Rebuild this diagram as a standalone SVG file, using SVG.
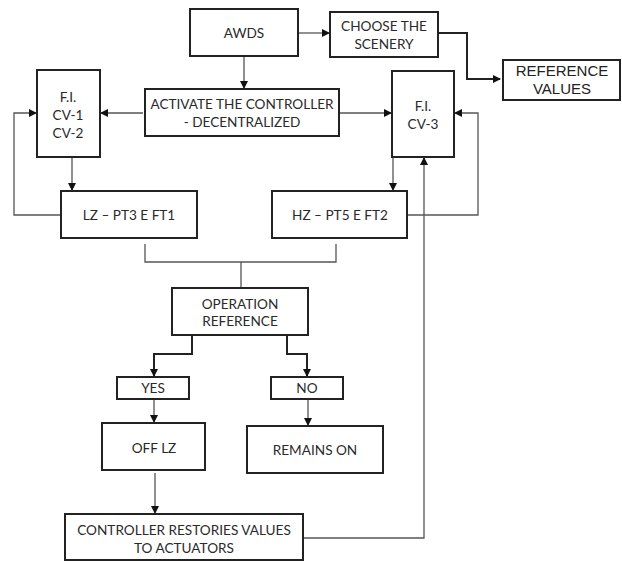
<svg xmlns="http://www.w3.org/2000/svg" width="622" height="561" viewBox="0 0 622 561">
<style>
.box{fill:#fff;stroke:#222;stroke-width:2}
.t{font-family:Lato,"Open Sans","Liberation Sans",sans-serif;font-size:13.6px;fill:#2a2a2a;text-anchor:middle}
.ta{font-family:"Liberation Sans",Arial,sans-serif;font-size:15px;fill:#222;text-anchor:middle}
.c{fill:none;stroke:#555;stroke-width:1.3}
.ck{fill:none;stroke:#222;stroke-width:2}
</style>
<defs>
<marker id="ah" markerWidth="8" markerHeight="8" refX="7" refY="4" orient="auto" markerUnits="userSpaceOnUse">
<path d="M0,0 L8,4 L0,8 Z" fill="#111"/>
</marker>
</defs>
<rect width="622" height="561" fill="#fff"/>
<g id="connectors">
<path class="c" d="M244,56 V88" marker-end="url(#ah)"/>
<path class="c" d="M298,33 H329" marker-end="url(#ah)"/>
<path class="ck" d="M436,33 H467 V79 H500" marker-end="url(#ah)"/>
<path class="c" d="M143,113 H101" marker-end="url(#ah)"/>
<path class="c" d="M339,113 H391" marker-end="url(#ah)"/>
<path class="c" d="M72,157 V190" marker-end="url(#ah)"/>
<path class="c" d="M393,157 V190" marker-end="url(#ah)"/>
<path class="c" d="M61,215 H14 V113 H36" marker-end="url(#ah)"/>
<path class="c" d="M407,215 H478 V113 H455" marker-end="url(#ah)"/>
<path class="c" d="M145,244 V262 H336 V244 M241,262 V288"/>
<path class="ck" d="M192,335 V354 H154 V376" marker-end="url(#ah)"/>
<path class="ck" d="M287,335 V354 H307 V376" marker-end="url(#ah)"/>
<path class="c" d="M154,399 V422" marker-end="url(#ah)"/>
<path class="c" d="M308,399 V425" marker-end="url(#ah)"/>
<path class="c" d="M155,473 V513" marker-end="url(#ah)"/>
<path class="c" d="M303,538 H424 V158" marker-end="url(#ah)"/>
</g>
<g id="awds"><rect class="box" x="190" y="9" width="108" height="47"/><text class="t" x="244" y="38">AWDS</text></g>
<g id="choose"><rect class="box" x="330" y="12" width="108" height="45"/><text class="t" x="384" y="31">CHOOSE THE</text><text class="t" x="384" y="49">SCENERY</text></g>
<g id="refvalues"><rect class="box" x="503" y="60" width="117" height="40"/><text class="ta" x="562" y="76">REFERENCE</text><text class="ta" x="562" y="94">VALUES</text></g>
<g id="activate"><rect class="box" x="145" y="89" width="194" height="47"/><text class="t" x="242" y="109">ACTIVATE THE CONTROLLER</text><text class="t" x="242" y="127">- DECENTRALIZED</text></g>
<g id="fi12"><rect class="box" x="37" y="70" width="63" height="87"/><text class="t" x="68" y="102">F.I.</text><text class="t" x="68" y="120">CV-1</text><text class="t" x="68" y="138">CV-2</text></g>
<g id="fi3"><rect class="box" x="392" y="71" width="62" height="86"/><text class="t" x="423" y="111">F.I.</text><text class="t" x="423" y="129">CV-3</text></g>
<g id="lz"><rect class="box" x="61" y="191" width="136" height="47"/><text class="t" x="129" y="220">LZ – PT3 E FT1</text></g>
<g id="hz"><rect class="box" x="272" y="191" width="135" height="47"/><text class="t" x="340" y="220">HZ – PT5 E FT2</text></g>
<g id="operation"><rect class="box" x="172" y="288" width="136" height="47"/><text class="t" x="240" y="309">OPERATION</text><text class="t" x="240" y="326">REFERENCE</text></g>
<g id="yes"><rect class="box" x="117" y="377" width="72" height="22"/><text class="t" x="153" y="393">YES</text></g>
<g id="no"><rect class="box" x="271" y="377" width="72" height="22"/><text class="t" x="307" y="393">NO</text></g>
<g id="offlz"><rect class="box" x="102" y="423" width="103" height="47"/><text class="t" x="154" y="453">OFF LZ</text></g>
<g id="remains"><rect class="box" x="247" y="426" width="136" height="47"/><text class="t" x="315" y="455">REMAINS ON</text></g>
<g id="controller"><rect class="box" x="65" y="514" width="238" height="46"/><text class="t" x="184" y="535">CONTROLLER RESTORIES VALUES</text><text class="t" x="184" y="553">TO ACTUATORS</text></g>
</svg>
